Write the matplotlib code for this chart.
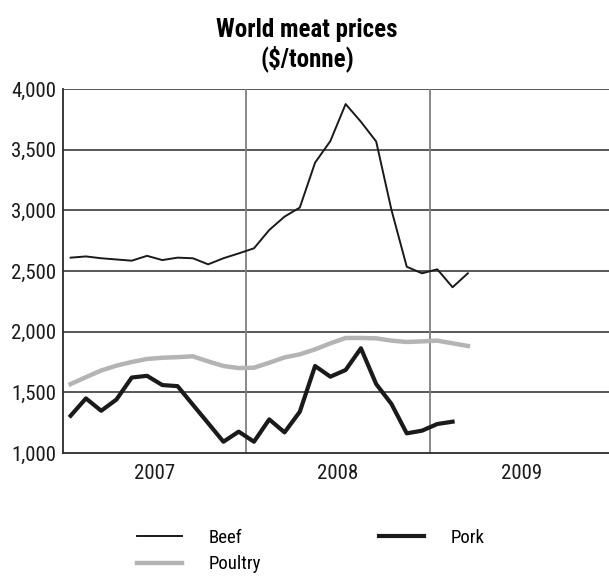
import matplotlib
matplotlib.use('Agg')
import matplotlib.pyplot as plt
from matplotlib.ticker import FuncFormatter, FixedLocator

plt.rcParams['font.family'] = ['Roboto Condensed', 'DejaVu Sans']

# monthly prices, $/tonne, starting Jan 2007
beef = [2610, 2620, 2605, 2595, 2585, 2625, 2590, 2610, 2605, 2555, 2605, 2645,
        2687, 2838, 2948, 3023, 3393, 3571, 3876, 3730, 3567, 3003, 2535, 2481,
        2514, 2366, 2481]
poultry = [1568, 1625, 1680, 1720, 1750, 1775, 1785, 1790, 1797, 1755, 1717, 1700,
           1703, 1744, 1788, 1813, 1854, 1904, 1948, 1948, 1945, 1926, 1915, 1920,
           1926, 1904, 1882]
pork = [1307, 1450, 1348, 1441, 1622, 1636, 1560, 1551, 1398, 1246, 1093, 1176,
        1093, 1277, 1170, 1340, 1717, 1629, 1684, 1863, 1568, 1404, 1162, 1184,
        1239, 1258]
years = ['2007', '2008', '2009']

def months(n):
    return [2007 + (i + 0.5) / 12 for i in range(n)]

fig = plt.figure(figsize=(6.09, 5.76), dpi=100)
ax = fig.add_axes([63 / 609, 1 - 453 / 576, 550 / 609, 364 / 576])

ax.set_xlim(2007, 2010)
ax.set_ylim(1000, 4000)
for y in range(1500, 4001, 500):
    ax.axhline(y, color='#2a2a2a', lw=1.1, zorder=1)
for x in [2008, 2009]:
    ax.axvline(x, color='#808080', lw=1.3, zorder=1)

l_beef, = ax.plot(months(len(beef)), beef, color='#1a1a1a', lw=1.4, label='Beef', zorder=3)
l_poul, = ax.plot(months(len(poultry)), poultry, color='#b4b4b4', lw=3.2, label='Poultry', zorder=2)
l_pork, = ax.plot(months(len(pork)), pork, color='#1a1a1a', lw=3.0, label='Pork', zorder=3)

for s in ['top', 'right']:
    ax.spines[s].set_visible(False)
for s in ['left', 'bottom']:
    ax.spines[s].set_color('#2a2a2a')
    ax.spines[s].set_linewidth(1.3)

ax.yaxis.set_major_locator(FixedLocator(range(1000, 4001, 500)))
ax.yaxis.set_major_formatter(FuncFormatter(lambda v, p: '{:,}'.format(int(v))))
ax.set_xticks([2007.5, 2008.5, 2009.5])
ax.set_xticklabels(years)
ax.tick_params(axis='both', length=0, labelsize=15, colors='#1a1a1a')
ax.tick_params(axis='y', pad=5)
ax.tick_params(axis='x', pad=8)

fig.text(307 / 609, 1 - 45 / 576, 'World meat prices\n($/tonne)', ha='center', va='center',
         fontsize=18, fontweight='bold', linespacing=1.2)

leg1 = fig.legend(handles=[l_beef, l_poul], frameon=False,
                  loc='upper left', bbox_to_anchor=(120 / 609, 1 - 512 / 576),
                  fontsize=13.5, handlelength=2.4, handletextpad=1.4, labelspacing=0.45)
fig.legend(handles=[l_pork], frameon=False,
           loc='upper left', bbox_to_anchor=(362 / 609, 1 - 512 / 576),
           fontsize=13.5, handlelength=2.4, handletextpad=1.4)

fig.savefig('out.png', dpi=100)
